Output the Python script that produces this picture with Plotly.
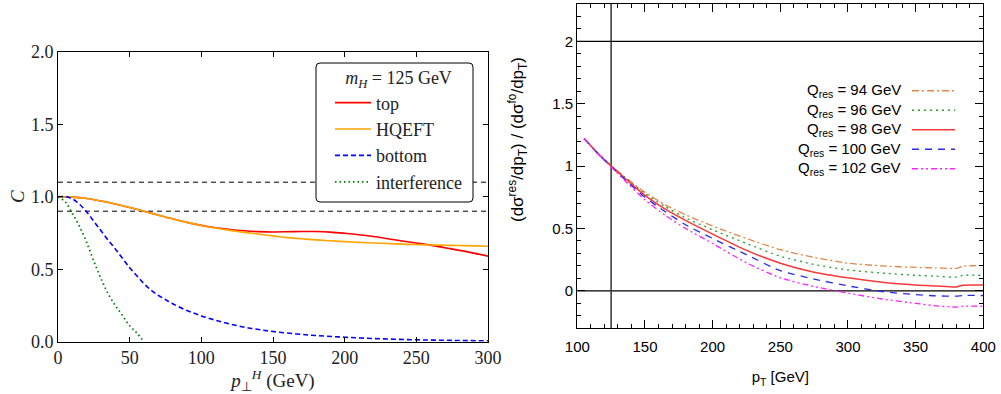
import plotly.graph_objects as go

W, H = 1001, 394

# ---------------- Left panel data ----------------
pt_top = [0, 10, 20, 30, 40, 50, 60, 70, 80, 90, 100, 110, 120, 130, 140, 150,
          160, 170, 180, 190, 200, 210, 220, 230, 240, 250, 260, 270, 280, 290, 300]
C_top = [1.0, 0.997, 0.987, 0.970, 0.950, 0.926, 0.900, 0.872, 0.847, 0.823, 0.802,
         0.786, 0.774, 0.765, 0.759, 0.757, 0.758, 0.760, 0.760, 0.756, 0.748, 0.738,
         0.725, 0.710, 0.695, 0.681, 0.666, 0.648, 0.630, 0.611, 0.590]
C_hqeft = [1.0, 0.997, 0.987, 0.970, 0.950, 0.926, 0.900, 0.872, 0.847, 0.823, 0.802,
           0.784, 0.768, 0.754, 0.742, 0.730, 0.718, 0.710, 0.702, 0.696, 0.690, 0.685,
           0.681, 0.677, 0.673, 0.670, 0.667, 0.665, 0.663, 0.661, 0.658]
pt_bottom = [0, 5, 10, 15, 20, 25, 30, 35, 40, 45, 50, 55, 60, 65, 70, 75, 80, 90, 100,
             110, 120, 130, 140, 150, 175, 200, 225, 250, 275, 300]
C_bottom = [1.0, 1.0, 0.985, 0.948, 0.895, 0.83, 0.765, 0.70, 0.64, 0.575, 0.51, 0.455,
            0.40, 0.355, 0.32, 0.29, 0.262, 0.215, 0.178, 0.148, 0.122, 0.10, 0.084, 0.07,
            0.046, 0.031, 0.020, 0.013, 0.009, 0.006]
pt_interf = [0, 5, 10, 15, 20, 25, 30, 35, 40, 45, 50, 55, 60]
C_interf = [1.0, 0.965, 0.885, 0.795, 0.685, 0.555, 0.435, 0.33, 0.25, 0.18, 0.11, 0.06, 0.0]
band_levels = [0.9, 1.1]

# ---------------- Right panel data ----------------
pt_res = [105, 115, 125, 135, 150, 165, 180, 200, 225, 250, 275, 300, 325, 350, 365, 380, 385, 400]
ratio_94 = [1.222, 1.108, 1.005, 0.915, 0.79, 0.69, 0.61, 0.52, 0.42, 0.33, 0.268, 0.222,
            0.200, 0.188, 0.185, 0.180, 0.198, 0.203]
ratio_96 = [1.222, 1.106, 1.003, 0.910, 0.78, 0.675, 0.585, 0.49, 0.38, 0.278, 0.212, 0.168,
            0.143, 0.125, 0.118, 0.110, 0.124, 0.125]
ratio_98 = [1.222, 1.105, 1.0, 0.905, 0.765, 0.655, 0.565, 0.455, 0.325, 0.222, 0.15, 0.105,
            0.07, 0.048, 0.04, 0.032, 0.046, 0.047]
ratio_100 = [1.222, 1.103, 0.997, 0.895, 0.75, 0.635, 0.53, 0.42, 0.29, 0.162, 0.095, 0.04,
             -0.005, -0.03, -0.04, -0.042, -0.037, -0.037]
ratio_102 = [1.222, 1.10, 0.993, 0.885, 0.73, 0.605, 0.50, 0.38, 0.225, 0.105, 0.035, -0.018,
             -0.065, -0.10, -0.12, -0.13, -0.123, -0.123]
Q_res = ["94", "96", "98", "100", "102"]
ref_levels = [0, 2]
ref_pt = [125]


def px(x):
    return x / W


def py(y):
    return 1 - y / H


SERIF = "Liberation Serif"
SANS = "Liberation Sans"

fig = go.Figure()

# left traces
left_series = [
    ("top", pt_top, C_top, dict(color="#ff0000", width=1.6)),
    ("HQEFT", pt_top, C_hqeft, dict(color="#ffa500", width=1.6)),
    ("bottom", pt_bottom, C_bottom, dict(color="#0000ff", width=1.6, dash="5px,3px")),
    ("interference", pt_interf, C_interf, dict(color="#008000", width=1.8, dash="1.5px,3px")),
]
for name, xs, ys, ln in left_series:
    fig.add_trace(go.Scatter(x=xs, y=ys, mode="lines", name=name, line=dict(shape="spline", **ln),
                             xaxis="x", yaxis="y", legend="legend", legendgroup=name))

for lv in band_levels:
    fig.add_shape(type="line", xref="x domain", yref="y", x0=0, x1=1, y0=lv, y1=lv,
                  line=dict(color="black", width=1, dash="5px,4px"), layer="below")

# right traces
right_series = [
    (ratio_94, dict(color="#e0884a", width=1.3, dash="7px,3px,2px,3px")),
    (ratio_96, dict(color="#22a02a", width=1.3, dash="2px,4px")),
    (ratio_98, dict(color="#f83a3a", width=1.5)),
    (ratio_100, dict(color="#2a2aee", width=1.3, dash="7px,6px")),
    (ratio_102, dict(color="#ff22ff", width=1.3, dash="6px,3px,2px,3px,2px,3px")),
]
for q, (ys, ln) in zip(Q_res, right_series):
    fig.add_trace(go.Scatter(x=pt_res, y=ys, mode="lines", name=f"Q_res = {q} GeV",
                             line=dict(shape="spline", smoothing=0.6, **ln),
                             xaxis="x2", yaxis="y2", showlegend=False))

for lv in ref_levels:
    fig.add_shape(type="line", xref="x2 domain", yref="y2", x0=0, x1=1, y0=lv, y1=lv,
                  line=dict(color="black", width=1.2), layer="below")
for v in ref_pt:
    fig.add_shape(type="line", xref="x2", yref="y2 domain", x0=v, x1=v, y0=0, y1=1,
                  line=dict(color="#333", width=1.5), layer="below")

# custom gnuplot-style key (text left of sample)
n = len(Q_res)
for i, (q, (ys, ln)) in enumerate(zip(Q_res, right_series)):
    row = n - 1 - i
    fig.add_trace(go.Scatter(x=[0, 1], y=[row, row], mode="lines", line=ln,
                             xaxis="x3", yaxis="y3", showlegend=False, hoverinfo="skip"))
    fig.add_annotation(x=px(903), xref="paper", y=row, yref="y3", xanchor="right", yanchor="middle",
                       text=f"Q<sub>res</sub> = {q} GeV", showarrow=False,
                       font=dict(family=SANS, size=15, color="black"))

# left legend rounded box
x0, x1, y0, y1 = px(316), px(473), py(202), py(63)
rx, ry = 4 / W, 4 / H
path = (f"M {x0+rx},{y0} L {x1-rx},{y0} Q {x1},{y0} {x1},{y0+ry} L {x1},{y1-ry} "
        f"Q {x1},{y1} {x1-rx},{y1} L {x0+rx},{y1} Q {x0},{y1} {x0},{y1-ry} L {x0},{y0+ry} "
        f"Q {x0},{y0} {x0+rx},{y0} Z")
fig.add_shape(type="path", xref="paper", yref="paper", path=path,
              line=dict(color="black", width=1), fillcolor="white", layer="above")

axis_common_left = dict(showline=True, linecolor="black", linewidth=1, mirror="ticks",
                        ticks="inside", ticklen=5, tickcolor="black", showgrid=False, zeroline=False,
                        automargin=False,
                        tickfont=dict(family=SERIF, size=18, color="#222"))
axis_common_right = dict(showline=True, linecolor="black", linewidth=1.2, mirror="allticks",
                         ticks="inside", ticklen=8, tickcolor="black", showgrid=False, zeroline=False,
                         automargin=False,
                         tickfont=dict(family=SANS, size=15, color="black"))

fig.update_layout(
    width=W, height=H, margin=dict(l=0, r=0, t=0, b=0, pad=0, autoexpand=False),
    plot_bgcolor="white", paper_bgcolor="white",
    xaxis=dict(domain=[px(58), px(488)], anchor="y", range=[0, 300], dtick=50,
               title=dict(text="<i>p</i><sub>⊥</sub><sup><i>H</i></sup> (GeV)",
                          font=dict(family=SERIF, size=19, color="#222"), standoff=1),
               **axis_common_left),
    yaxis=dict(domain=[py(341.7), py(51.7)], anchor="x", range=[0, 2], dtick=0.5, tickformat=".1f",
               title=dict(text="<i>C</i>", font=dict(family=SERIF, size=19, color="#222"), standoff=1),
               **axis_common_left),
    xaxis2=dict(domain=[px(577.3), px(983.3)], anchor="y2", range=[100, 400], dtick=50,
                ticklabelstandoff=5,
                minor=dict(dtick=10, ticks="inside", ticklen=4, tickcolor="black", showgrid=False),
                title=dict(text="p<sub>T</sub> [GeV]", font=dict(family=SANS, size=15, color="black"),
                           standoff=17),
                **axis_common_right),
    yaxis2=dict(domain=[py(328.3), py(4)], anchor="x2", range=[-0.3, 2.3], dtick=0.5,
                minor=dict(dtick=0.1, ticks="inside", ticklen=4, tickcolor="black", showgrid=False),
                **axis_common_right),
    xaxis3=dict(domain=[px(912), px(955)], anchor="y3", range=[0, 1], visible=False, fixedrange=True),
    yaxis3=dict(domain=[py(178.5), py(81)], anchor="x3", range=[-0.5, 4.5], visible=False, fixedrange=True),
    legend=dict(x=px(330), y=py(61), xanchor="left", yanchor="top", bgcolor="rgba(0,0,0,0)",
                borderwidth=0, itemwidth=36, tracegroupgap=0,
                font=dict(family=SERIF, size=18, color="#222"),
                title=dict(text="<i>m</i><sub><i>H</i></sub> = 125 GeV", side="top center",
                           font=dict(family=SERIF, size=18, color="#222"))),
    showlegend=True,
)

fig.add_annotation(x=px(518), y=py(140), xref="paper", yref="paper", textangle=-90,
                   text="(dσ<sup>res</sup>/dp<sub>T</sub>) / (dσ<sup>fo</sup>/dp<sub>T</sub>)",
                   showarrow=False, font=dict(family=SANS, size=17, color="black"))

fig.write_html("out.html", config={"displayModeBar": False},
               post_script="document.body.style.margin='0px';")
